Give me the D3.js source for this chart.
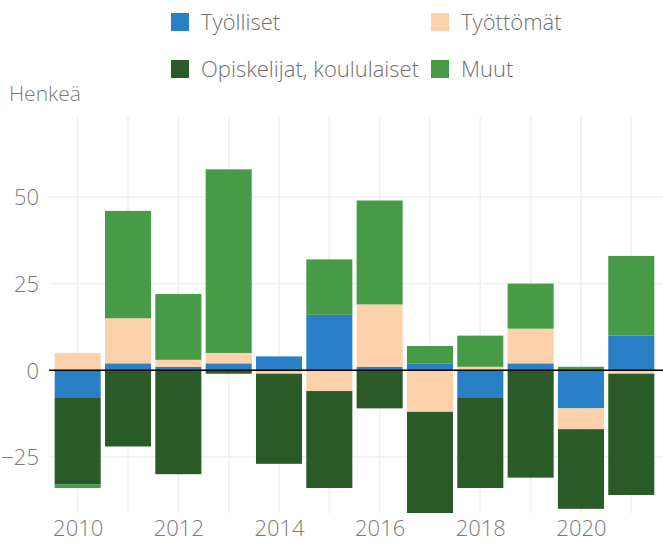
<!DOCTYPE html>
<html>
<head>
<meta charset="utf-8">
<script src="https://cdn.jsdelivr.net/npm/d3@7"></script>
<style>
  body { margin: 0; background: #fff; }
  svg { font-family: "Open Sans", Lato, sans-serif; font-weight: 300; }
</style>
</head>
<body>
<div id="chart"></div>
<script>
// data
var years = [2010, 2011, 2012, 2013, 2014, 2015, 2016, 2017, 2018, 2019, 2020, 2021];
var tyolliset   = [-8, 2, 1, 2, 4, 16, 1, 2, -8, 2, -11, 10];
var tyottomat   = [5, 13, 2, 3, -1, -6, 18, -12, 1, 10, -6, -1];
var opiskelijat = [-25, -22, -30, -1, -26, -28, -11, -30, -26, -31, -23, -35];
var muut        = [-1, 31, 19, 53, 0, 16, 30, 5, 9, 13, 1, 23];
var seriesNames = ['Työlliset', 'Työttömät', 'Opiskelijat, koululaiset', 'Muut'];
var colors = ['#2a80c7', '#fcd1ac', '#2b5a29', '#489b46'];
var yTicks = [-25, 0, 25, 50];
var xTicks = [2010, 2012, 2014, 2016, 2018, 2020];

var W = 663, H = 543;
var margin = { top: 117, right: 0, bottom: 30, left: 49 };

var rows = years.map(function (yr, i) {
  var r = { year: yr };
  r[seriesNames[0]] = tyolliset[i];
  r[seriesNames[1]] = tyottomat[i];
  r[seriesNames[2]] = opiskelijat[i];
  r[seriesNames[3]] = muut[i];
  return r;
});

var stack = d3.stack().keys(seriesNames).offset(d3.stackOffsetDiverging);
var layers = stack(rows);

var svg = d3.select('#chart').append('svg')
  .attr('width', W)
  .attr('height', H);

var x = d3.scaleLinear().domain([2009.43, 2021.63]).range([margin.left, W - margin.right]);
var y = d3.scaleLinear().domain([-41.2, 73.1]).range([H - margin.bottom, margin.top]);
var barW = 0.915 * (x(2011) - x(2010));

svg.append('clipPath').attr('id', 'plotclip')
  .append('rect')
  .attr('x', margin.left).attr('y', margin.top)
  .attr('width', W - margin.left - margin.right)
  .attr('height', H - margin.top - margin.bottom);

// grid
var grid = svg.append('g');
grid.selectAll('.vg').data(years).enter().append('line')
  .attr('x1', function (d) { return x(d); })
  .attr('x2', function (d) { return x(d); })
  .attr('y1', margin.top).attr('y2', H - margin.bottom)
  .attr('stroke', '#f0f0f0').attr('stroke-width', 1.6);
grid.selectAll('.hg').data(yTicks).enter().append('line')
  .attr('x1', margin.left).attr('x2', W - margin.right)
  .attr('y1', function (d) { return y(d); })
  .attr('y2', function (d) { return y(d); })
  .attr('stroke', '#f0f0f0').attr('stroke-width', 1.6);

// bars
svg.append('g').attr('clip-path', 'url(#plotclip)')
  .selectAll('g').data(layers).enter().append('g')
  .attr('fill', function (d, i) { return colors[i]; })
  .selectAll('rect').data(function (d) { return d; }).enter().append('rect')
  .attr('x', function (d) { return x(d.data.year) - barW / 2; })
  .attr('width', barW)
  .attr('y', function (d) { return y(Math.max(d[0], d[1])); })
  .attr('height', function (d) { return Math.abs(y(d[0]) - y(d[1])); });

// zero line
svg.append('line')
  .attr('x1', margin.left).attr('x2', W - margin.right)
  .attr('y1', y(0)).attr('y2', y(0))
  .attr('stroke', '#000').attr('stroke-width', 1.5);

// axes
var yAxis = svg.append('g')
  .attr('transform', 'translate(' + (margin.left - 10) + ',0)')
  .call(d3.axisLeft(y).tickValues(yTicks).tickSize(0).tickPadding(0));
var xAxis = svg.append('g')
  .attr('transform', 'translate(0,' + (H - margin.bottom) + ')')
  .call(d3.axisBottom(x).tickValues(xTicks).tickFormat(d3.format('d')).tickSize(0).tickPadding(7));
[xAxis, yAxis].forEach(function (a) {
  a.select('.domain').remove();
  a.selectAll('text').attr('fill', '#7a7a7a').style('font-size', '22px')
    .style('font-family', '"Open Sans", sans-serif').style('font-weight', 300);
});
yAxis.selectAll('text').attr('dy', '0.36em');

// title
svg.append('text')
  .attr('x', 9).attr('y', 101)
  .attr('fill', '#7a7a7a')
  .style('font-size', '21px')
  .text('Henkeä');

// legend
var legPos = [[171, 13], [431, 13], [171, 60], [431, 60]];
var leg = svg.append('g').selectAll('g').data(seriesNames).enter().append('g')
  .attr('transform', function (d, i) { return 'translate(' + legPos[i][0] + ',' + legPos[i][1] + ')'; });
leg.append('rect').attr('width', 18).attr('height', 18)
  .attr('fill', function (d, i) { return colors[i]; });
leg.append('text').attr('x', 30).attr('y', 16.5)
  .attr('fill', '#6f6f6f')
  .style('font-size', '22px')
  .text(function (d) { return d; });
</script>
</body>
</html>
